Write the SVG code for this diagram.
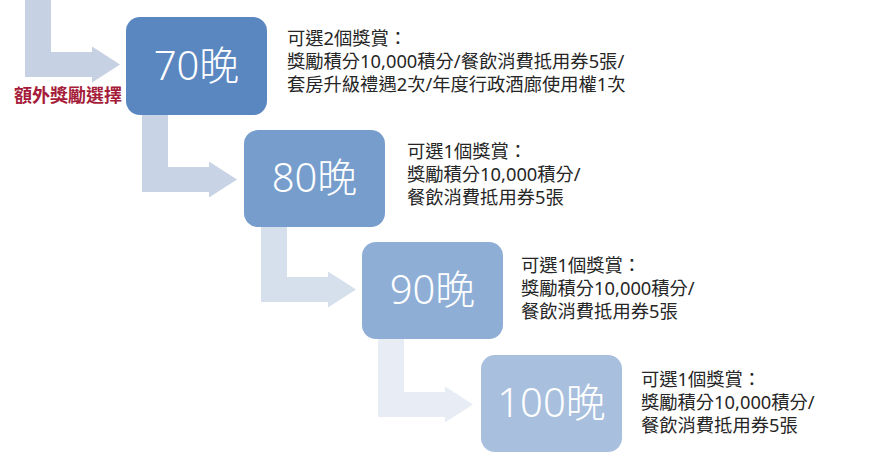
<svg xmlns="http://www.w3.org/2000/svg" xmlns:xlink="http://www.w3.org/1999/xlink" width="876" height="470" viewBox="0 0 876 470">
<defs>
<style>
.box text{font-family:"Noto Sans","Noto Sans CJK TC",sans-serif;font-size:40px;font-weight:300;fill:#ffffff;text-anchor:middle}
.desc{font-family:"Noto Sans","Noto Sans CJK TC",sans-serif;font-size:18.3px;fill:#262626}
.extra{font-family:"Noto Sans CJK TC",sans-serif;font-size:18px;font-weight:bold;fill:#a51d3a}
</style>
<path id="arr" d="M0,-80 H26 V-25 H67 V-30.5 L95,-12.5 L67,5.5 V0 H0 Z"/>
</defs>
<rect width="876" height="470" fill="#ffffff"/>
<g id="connectors">
<use xlink:href="#arr" href="#arr" transform="translate(25,77)" fill="#c6d1e3"/>
<use xlink:href="#arr" href="#arr" transform="translate(142,192)" fill="#c8d3e5"/>
<use xlink:href="#arr" href="#arr" transform="translate(261,302)" fill="#d6dfec"/>
<use xlink:href="#arr" href="#arr" transform="translate(378,417)" fill="#e8edf5"/>
</g>
<g id="extra-label">
<text class="extra" x="14" y="102">額外獎勵選擇</text>
</g>
<g id="n70" class="box">
<rect x="126" y="17" width="141" height="98" rx="14" fill="#5b87c1"/>
<text x="196.5" y="80">70晚</text>
</g>
<g id="n80" class="box">
<rect x="244" y="130" width="141" height="97" rx="14" fill="#769dcc"/>
<text x="314.5" y="192">80晚</text>
</g>
<g id="n90" class="box">
<rect x="362" y="242" width="141" height="97" rx="14" fill="#8eaed6"/>
<text x="432.5" y="304">90晚</text>
</g>
<g id="n100" class="box">
<rect x="481" y="355" width="141" height="97" rx="14" fill="#a8bfde"/>
<text x="551.5" y="417">100晚</text>
</g>
<g id="d70" class="desc">
<text x="287" y="44.5">可選2個獎賞：</text>
<text x="287" y="67.5">獎勵積分10,000積分/餐飲消費抵用券5張/</text>
<text x="287" y="90.5">套房升級禮遇2次/年度行政酒廊使用權1次</text>
</g>
<g id="d80" class="desc">
<text x="407" y="158">可選1個獎賞：</text>
<text x="407" y="181">獎勵積分10,000積分/</text>
<text x="407" y="204">餐飲消費抵用券5張</text>
</g>
<g id="d90" class="desc">
<text x="521" y="272">可選1個獎賞：</text>
<text x="521" y="295">獎勵積分10,000積分/</text>
<text x="521" y="318">餐飲消費抵用券5張</text>
</g>
<g id="d100" class="desc">
<text x="641" y="386">可選1個獎賞：</text>
<text x="641" y="409">獎勵積分10,000積分/</text>
<text x="641" y="432">餐飲消費抵用券5張</text>
</g>
</svg>
